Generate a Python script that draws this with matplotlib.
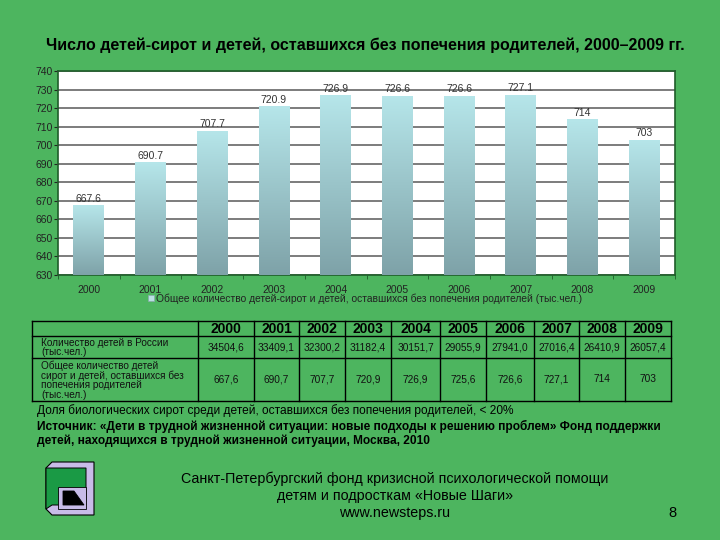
import numpy as np
import matplotlib
matplotlib.use("Agg")
from matplotlib import pyplot as plt
from matplotlib.patches import Rectangle, Polygon

plt.rcParams['font.family'] = ['Liberation Sans', 'DejaVu Sans']

# chart data
years = ['2000', '2001', '2002', '2003', '2004', '2005', '2006', '2007', '2008', '2009']
orphans = [667.6, 690.7, 707.7, 720.9, 726.9, 726.6, 726.6, 727.1, 714, 703]
bar_labels = ['667.6', '690.7', '707.7', '720.9', '726.9', '726.6', '726.6', '727.1', '714', '703']

# table data
children_total = ['34504,6', '33409,1', '32300,2', '31182,4', '30151,7',
                  '29055,9', '27941,0', '27016,4', '26410,9', '26057,4']
orphans_table = ['667,6', '690,7', '707,7', '720,9', '726,9',
                 '725,6', '726,6', '727,1', '714', '703']
row_names = ['Количество детей в России\n(тыс.чел.)',
             'Общее количество детей\nсирот и детей, оставшихся без\nпопечения родителей\n(тыс.чел.)']

BG = '#4db55f'
W, H = 720, 540

fig = plt.figure(figsize=(7.2, 5.4), dpi=100, facecolor=BG)

# --- bar chart ---
L, R, T, B = 58, 675, 71, 275
ax = fig.add_axes([L / W, 1 - B / H, (R - L) / W, (B - T) / H])
ax.set_facecolor('white')
x = np.arange(len(years))
bars = ax.bar(x, orphans, width=0.5, color='#9fd0d6', zorder=3)

# vertical gradient on each bar
grad = np.linspace(0, 1, 256).reshape(-1, 1)
cmap = matplotlib.colors.LinearSegmentedColormap.from_list('g', ['#7ea2a8', '#b6e6ea'])
for i, b in enumerate(bars):
    im = ax.imshow(grad, cmap=cmap, origin='lower', aspect='auto', zorder=3,
                   extent=[b.get_x(), b.get_x() + b.get_width(), 630, b.get_height()])
    im.set_clip_path(b)
    ax.text(b.get_x() + b.get_width() / 2, b.get_height() + 0.8, bar_labels[i],
            ha='center', va='bottom', fontsize=7.5, color='#333333', zorder=4)

ax.set_xlim(-0.5, len(years) - 0.5)
ax.set_ylim(630, 740)
ax.set_yticks(np.arange(630, 741, 10))
ax.tick_params(axis='y', labelsize=7.5, colors='#222222', length=3, pad=1)
ax.set_xticks(x)
ax.set_xticklabels(years)
ax.set_xticks(np.arange(-0.5, len(years), 1), minor=True)
ax.tick_params(axis='x', which='major', length=0, labelsize=7.5, colors='#222222', pad=7)
ax.tick_params(axis='x', which='minor', length=3, color='#1f5d2a')
ax.grid(axis='y', color='#666666', linewidth=1.2, zorder=1)
for s in ax.spines.values():
    s.set_color('#1f5d2a')
    s.set_linewidth(1.2)

# overlay axes in pixel coords
ov = fig.add_axes([0, 0, 1, 1], facecolor='none')
ov.set_xlim(0, W)
ov.set_ylim(H, 0)
ov.axis('off')

ov.text(365, 45, 'Число детей-сирот и детей, оставшихся без попечения родителей, 2000–2009 гг.',
        ha='center', va='center', fontsize=11.5, fontweight='bold', color='black')

# legend
ov.add_patch(Rectangle((148, 295), 6, 6, facecolor='#b9dfe3', edgecolor='#8aa', lw=0.5))
ov.text(156, 298.5, 'Общее количество детей-сирот и детей, оставшихся без попечения родителей (тыс.чел.)',
        ha='left', va='center', fontsize=7.4, color='#222222')

# --- table ---
col_x = [32, 198, 254, 299, 345, 391, 440, 486, 534, 579, 625, 671]
row_y = [321, 336, 358, 401]
for cx in col_x:
    ov.plot([cx, cx], [row_y[0], row_y[-1]], color='black', lw=1)
for ry in row_y:
    ov.plot([col_x[0], col_x[-1]], [ry, ry], color='black', lw=1)
for i, yr in enumerate(years):
    xc = (col_x[i + 1] + col_x[i + 2]) / 2
    ov.text(xc, (row_y[0] + row_y[1]) / 2 + 0.5, yr, ha='center', va='center',
            fontsize=10, fontweight='bold', color='black')
    ov.text(xc, (row_y[1] + row_y[2]) / 2, children_total[i], ha='center', va='center',
            fontsize=7.3, color='#111111')
    ov.text(xc, (row_y[2] + row_y[3]) / 2, orphans_table[i], ha='center', va='center',
            fontsize=7.3, color='#111111')
ov.text(41, (row_y[1] + row_y[2]) / 2 + 0.5, row_names[0], ha='left', va='center',
        fontsize=7.2, color='#111111', linespacing=0.95)
ov.text(41, (row_y[2] + row_y[3]) / 2 + 0.5, row_names[1], ha='left', va='center',
        fontsize=7.2, color='#111111', linespacing=0.95)

# notes
ov.text(37, 411, 'Доля биологических сирот среди детей, оставшихся без попечения родителей, < 20%',
        ha='left', va='center', fontsize=8.6, color='black')
ov.text(37, 426, 'Источник: «Дети в трудной жизненной ситуации: новые подходы к решению проблем» Фонд поддержки',
        ha='left', va='center', fontsize=8.6, fontweight='bold', color='black')
ov.text(37, 441, 'детей, находящихся в трудной жизненной ситуации, Москва, 2010',
        ha='left', va='center', fontsize=8.6, fontweight='bold', color='black')

# footer
ov.text(395, 479, 'Санкт-Петербургский фонд кризисной психологической помощи',
        ha='center', va='center', fontsize=10.3, color='black')
ov.text(395, 496, 'детям и подросткам «Новые Шаги»',
        ha='center', va='center', fontsize=10.3, color='black')
ov.text(395, 513, 'www.newsteps.ru', ha='center', va='center', fontsize=10.3, color='black')
ov.text(672, 513, '8', ha='center', va='center', fontsize=10.5, color='black')

# logo
lav = '#c8bce8'
ov.add_patch(Polygon([(46, 468), (52, 462), (94, 462), (94, 515), (52, 515), (46, 509)],
                     closed=True, facecolor=lav, edgecolor='black', lw=0.8))
ov.add_patch(Polygon([(46, 468), (86, 468), (86, 505), (52, 505), (46, 509)],
                     closed=True, facecolor='#1a9a45', edgecolor='black', lw=0.7))
ov.add_patch(Rectangle((58, 487), 28, 22, facecolor=lav, edgecolor='black', lw=0.6))
ov.add_patch(Polygon([(63, 491), (74, 491), (84, 505), (63, 505)],
                     closed=True, facecolor='black', edgecolor='black', lw=0.6))

fig.savefig('out.png', dpi=100, facecolor=BG)
